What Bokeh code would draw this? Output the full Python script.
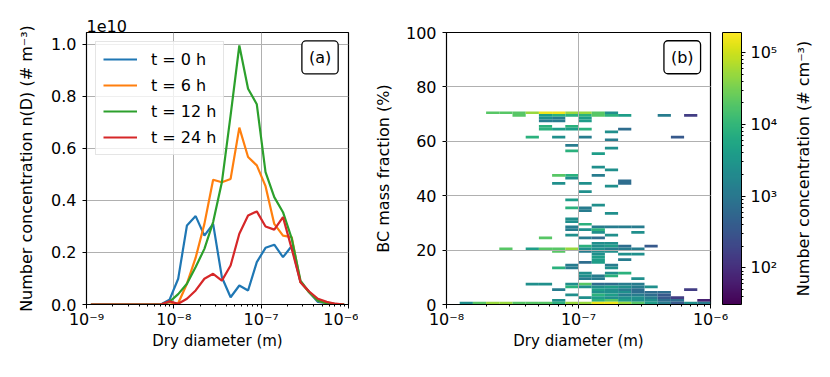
from bokeh.plotting import figure
from bokeh.layouts import row
from bokeh.models import (ColumnDataSource, LogColorMapper, ColorBar, LogTicker, FixedTicker,
                          CustomJSTickFormatter, Label, Legend, LegendItem, PrintfTickFormatter)
from bokeh.palettes import Viridis256
from bokeh.embed import file_html
from bokeh.resources import INLINE

FONT = "DejaVu Sans"
FS = "16px"
FSX = "15px"

# ---------------- panel (a): size distributions (values in units of 1e10 m^-3) -------------
log_d_centers = [-8.95 + 0.1 * i for i in range(30)]
n_t0 = [0, 0, 0, 0, 0, 0, 0, 0, 0.0, 0.018, 0.099, 0.304, 0.34, 0.265, 0.31, 0.105, 0.028,
        0.073, 0.054, 0.163, 0.218, 0.23, 0.182, 0.225, 0.086, 0.047, 0.01, 0.005, 0.002, 0.0]
n_t6 = [0, 0, 0, 0, 0, 0, 0, 0, 0.0, 0.0, 0.005, 0.08, 0.18, 0.31, 0.48, 0.47, 0.483,
        0.68, 0.567, 0.535, 0.455, 0.31, 0.265, 0.259, 0.086, 0.047, 0.015, 0.005, 0.002, 0.0]
n_t12 = [0, 0, 0, 0, 0, 0, 0, 0, 0.0, 0.01, 0.04, 0.08, 0.144, 0.214, 0.317, 0.47, 0.727,
         0.996, 0.83, 0.77, 0.509, 0.413, 0.355, 0.253, 0.092, 0.047, 0.015, 0.005, 0.002, 0.0]
n_t24 = [0, 0, 0, 0, 0, 0, 0, 0, 0.0, 0.012, 0.003, 0.022, 0.054, 0.099, 0.118, 0.092, 0.15,
         0.272, 0.342, 0.358, 0.30, 0.288, 0.336, 0.214, 0.086, 0.05, 0.022, 0.01, 0.003, 0.0]
series_labels = ["t = 0 h", "t = 6 h", "t = 12 h", "t = 24 h"]
series_colors = ["#1f77b4", "#ff7f0e", "#2ca02c", "#d62728"]

# ---------------- panel (b): 2D histogram (BC % bin, diameter bin, conc # cm^-3) ------------
Y, YG, LG, G, TG, T, BT, B, DB, P, PP = 1.5e5, 5e4, 2e4, 8e3, 4e3, 2.4e3, 1.2e3, 700, 350, 150, 70
bc_cells = [
    (70, 3, LG), (70, 4, LG), (70, 5, LG), (70, 6, YG), (70, 7, Y), (70, 8, Y), (70, 9, YG), (70, 10, YG), (70, 11, LG), (70, 12, T),
    (69, 5, LG), (69, 7, TG), (69, 8, G), (69, 9, G), (69, 10, G), (69, 11, LG), (69, 12, G), (69, 13, TG), (69, 16, BT), (69, 18, P),
    (68, 7, T), (68, 8, BT), (68, 10, TG),
    (67, 7, BT), (67, 8, BT), (67, 10, TG),
    (65, 7, G), (65, 9, G),
    (64, 7, G), (64, 8, TG), (64, 9, TG), (64, 10, G), (64, 13, B),
    (63, 12, T),
    (61, 6, G), (61, 8, T), (61, 10, BT), (61, 17, DB),
    (60, 12, BT), (58, 9, BT), (57, 12, T), (56, 9, G), (55, 11, TG),
    (50, 11, T), (49, 12, T),
    (47, 8, LG), (47, 9, G), (47, 11, BT), (46, 9, T),
    (45, 13, B), (44, 8, T), (44, 10, T), (44, 13, B), (43, 12, T), (41, 10, T),
    (38, 9, TG), (36, 11, T), (35, 9, G), (35, 10, BT), (34, 10, BT), (33, 12, T),
    (31, 9, T), (30, 9, T), (29, 10, G),
    (28, 9, BT), (28, 11, BT), (28, 12, BT), (28, 13, BT), (28, 14, BT),
    (27, 9, BT), (27, 10, T), (27, 11, G),
    (26, 11, T), (26, 14, T), (25, 9, T), (25, 12, T),
    (24, 7, LG), (24, 10, BT), (24, 11, B),
    (22, 11, T), (22, 12, T),
    (21, 10, G), (21, 11, T), (21, 12, TG), (21, 13, B), (21, 15, DB),
    (20, 4, LG), (20, 6, TG), (20, 7, LG), (20, 8, LG), (20, 9, YG), (20, 10, T), (20, 11, T), (20, 12, BT), (20, 13, BT), (20, 14, BT),
    (19, 8, LG), (19, 10, BT), (19, 11, T), (19, 12, T),
    (18, 11, T), (18, 13, T), (18, 14, T),
    (17, 11, TG), (16, 11, TG), (16, 13, BT), (15, 10, B), (15, 11, TG),
    (14, 9, BT), (14, 12, BT), (13, 8, G), (13, 9, BT), (13, 12, T),
    (11, 10, T), (11, 12, T), (11, 13, G),
    (10, 10, T), (10, 11, BT), (10, 12, G),
    (9, 10, BT), (9, 11, BT), (9, 14, T),
    (7, 6, T), (7, 7, T), (7, 9, T), (7, 10, LG), (7, 11, B), (7, 12, B), (7, 13, BT), (7, 14, BT),
    (6, 9, G), (6, 10, T), (6, 11, T), (6, 12, TG), (6, 13, T), (6, 14, BT), (6, 15, T),
    (5, 8, BT), (5, 11, TG), (5, 12, T), (5, 13, BT), (5, 14, B), (5, 18, P),
    (4, 11, T), (4, 12, T), (4, 13, T), (4, 14, B), (4, 15, B), (4, 16, B),
    (3, 9, T), (3, 11, G), (3, 12, TG), (3, 13, BT), (3, 14, BT), (3, 15, B), (3, 16, DB),
    (2, 10, T), (2, 11, TG), (2, 12, T), (2, 13, T), (2, 14, T), (2, 15, BT), (2, 16, DB), (2, 17, P),
    (1, 8, T), (1, 11, G), (1, 12, LG), (1, 13, TG), (1, 14, T), (1, 15, T), (1, 16, B), (1, 17, B), (1, 19, PP),
    (0, 1, T), (0, 2, LG), (0, 3, YG), (0, 4, YG), (0, 5, LG), (0, 6, LG), (0, 7, LG), (0, 8, G), (0, 9, YG), (0, 10, YG),
    (0, 11, Y), (0, 12, Y), (0, 13, YG), (0, 14, LG), (0, 15, TG), (0, 16, BT), (0, 17, DB), (0, 18, T), (0, 19, BT),
]
bc_frac_bin = [c[0] for c in bc_cells]
bc_diam_bin = [c[1] for c in bc_cells]
bc_conc = [c[2] for c in bc_cells]
cbar_low, cbar_high = 31, 1.9e5


def sup_formatter():
    return CustomJSTickFormatter(code="""
const s = {'-':'\u207b','0':'\u2070','1':'\u00b9','2':'\u00b2','3':'\u00b3','4':'\u2074','5':'\u2075','6':'\u2076','7':'\u2077','8':'\u2078','9':'\u2079'};
const e = Math.round(Math.log10(tick));
return '10' + String(e).split('').map(c => s[c]).join('');
""")


def style(p):
    p.outline_line_color = "black"
    p.outline_line_width = 1.2
    p.background_fill_color = "white"
    p.border_fill_color = "white"
    for ax in (p.xaxis, p.yaxis):
        ax.axis_line_color = "black"
        ax.major_tick_line_color = "black"
        ax.minor_tick_line_color = "black"
        ax.major_tick_in = 0
        ax.major_tick_out = 4
        ax.minor_tick_in = 0
        ax.minor_tick_out = 2
        ax.major_label_text_font = FONT
        ax.major_label_text_color = "black"
        ax.axis_label_text_font = FONT
        ax.axis_label_text_font_style = "normal"
        ax.axis_label_text_color = "black"
    p.yaxis.major_label_text_font_size = FS
    p.yaxis.axis_label_text_font_size = FS
    p.xaxis.major_label_text_font_size = FS
    p.xaxis.axis_label_text_font_size = FSX
    p.yaxis.major_label_standoff = 6
    p.xaxis.major_label_standoff = 1
    p.xaxis.axis_label_standoff = 0
    for g in (p.xgrid, p.ygrid):
        g.grid_line_color = "#b0b0b0"
        g.grid_line_width = 1


def panel_tag(p, x, y, text):
    p.add_layout(Label(x=x, y=y, text=text, text_font=FONT, text_font_size=FS, text_color="black",
                       text_align="center", text_baseline="middle", border_line_color="black",
                       border_line_width=1.3, background_fill_color="white", padding=7,
                       border_radius=4))


TOP, BOTTOM = 32, 50

# ---------------- figure (a) ----------------
p1 = figure(x_axis_type="log", x_range=(1e-9, 1e-6), y_range=(0, 1.046),
            frame_width=262, frame_height=272, min_border_left=86, min_border_right=10,
            min_border_top=TOP, min_border_bottom=BOTTOM, output_backend="svg", toolbar_location=None)
style(p1)
d_centers = [10 ** v for v in log_d_centers]
items = []
for lab, vals, col in zip(series_labels, [n_t0, n_t6, n_t12, n_t24], series_colors):
    r = p1.line(d_centers, vals, line_color=col, line_width=2.2)
    items.append(LegendItem(label=lab, renderers=[r]))
leg = Legend(items=items, location="top_left", margin=9, padding=7, spacing=6,
             glyph_width=34, glyph_height=20, label_height=20, label_standoff=14,
             label_text_font=FONT, label_text_font_size=FS, label_text_color="black",
             border_line_color="#cccccc", border_line_width=1, background_fill_alpha=0.8)
p1.add_layout(leg)
p1.xaxis.ticker = LogTicker(num_minor_ticks=10)
p1.xaxis.formatter = sup_formatter()
p1.yaxis.ticker = FixedTicker(ticks=[0, 0.2, 0.4, 0.6, 0.8, 1.0], minor_ticks=[])
p1.yaxis.formatter = PrintfTickFormatter(format="%.1f")
p1.xaxis.axis_label = "Dry diameter (m)"
p1.yaxis.axis_label = "Number concentration n(D) (# m\u207b\u00b3)"
p1.yaxis.axis_label_standoff = 12
p1.title.text = "1e10"
p1.title.align = "left"
p1.title.text_font = FONT
p1.title.text_font_size = FS
p1.title.text_font_style = "normal"
p1.title.text_color = "black"
p1.title.standoff = 2
panel_tag(p1, 10 ** -6.326, 0.95, "(a)")

# ---------------- figure (b) ----------------
p2 = figure(x_axis_type="log", x_range=(1e-8, 1e-6), y_range=(0, 100),
            frame_width=264, frame_height=272, min_border_left=88, min_border_right=78,
            min_border_top=TOP, min_border_bottom=BOTTOM, output_backend="svg", toolbar_location=None)
style(p2)
mapper = LogColorMapper(palette=Viridis256, low=cbar_low, high=cbar_high)
src = ColumnDataSource(dict(
    left=[10 ** (-8 + 0.1 * j) for j in bc_diam_bin],
    right=[10 ** (-8 + 0.1 * (j + 1)) for j in bc_diam_bin],
    bottom=[k for k in bc_frac_bin],
    top=[k + 1 for k in bc_frac_bin],
    conc=bc_conc,
))
p2.quad(left="left", right="right", bottom="bottom", top="top", source=src,
        fill_color={"field": "conc", "transform": mapper}, line_color=None)
p2.xgrid.level = "overlay"
p2.ygrid.level = "overlay"
p2.xaxis.ticker = LogTicker(num_minor_ticks=10)
p2.xaxis.formatter = sup_formatter()
p2.yaxis.ticker = FixedTicker(ticks=[0, 20, 40, 60, 80, 100], minor_ticks=[])
p2.xaxis.axis_label = "Dry diameter (m)"
p2.yaxis.axis_label = "BC mass fraction (%)"
p2.yaxis.axis_label_standoff = 10
panel_tag(p2, 10 ** -6.214, 90.9, "(b)")

cb = ColorBar(color_mapper=mapper, ticker=LogTicker(num_minor_ticks=10), formatter=sup_formatter(),
              width=19, height=272, location=(12, 0), padding=0, margin=0,
              bar_line_color="black", bar_line_width=1,
              major_tick_line_color="black", major_tick_in=0, major_tick_out=4,
              minor_tick_line_color="black", minor_tick_in=0, minor_tick_out=2,
              major_label_text_font=FONT, major_label_text_font_size=FS,
              major_label_text_color="black", label_standoff=5)
p2.add_layout(cb, "right")

# ---------------- colorbar title holder ----------------
p3 = figure(x_range=(0, 1), y_range=(0, 1), frame_width=1, frame_height=272,
            min_border_left=24, min_border_right=0, min_border_top=TOP, min_border_bottom=BOTTOM,
            output_backend="svg", toolbar_location=None)
p3.outline_line_color = None
p3.xaxis.visible = False
p3.xgrid.visible = False
p3.ygrid.visible = False
p3.yaxis.ticker = FixedTicker(ticks=[], minor_ticks=[])
p3.yaxis.axis_line_color = None
p3.yaxis.major_tick_line_color = None
p3.yaxis.minor_tick_line_color = None
p3.yaxis.axis_label = "Number concentration (# cm\u207b\u00b3)"
p3.yaxis.axis_label_text_font = FONT
p3.yaxis.axis_label_text_font_size = FS
p3.yaxis.axis_label_text_font_style = "normal"
p3.yaxis.axis_label_text_color = "black"
p3.yaxis.axis_label_standoff = 0
p3.border_fill_color = "white"
p3.background_fill_color = "white"

layout = row(p1, p2, p3)
open("out.html", "w").write(file_html(layout, INLINE))
